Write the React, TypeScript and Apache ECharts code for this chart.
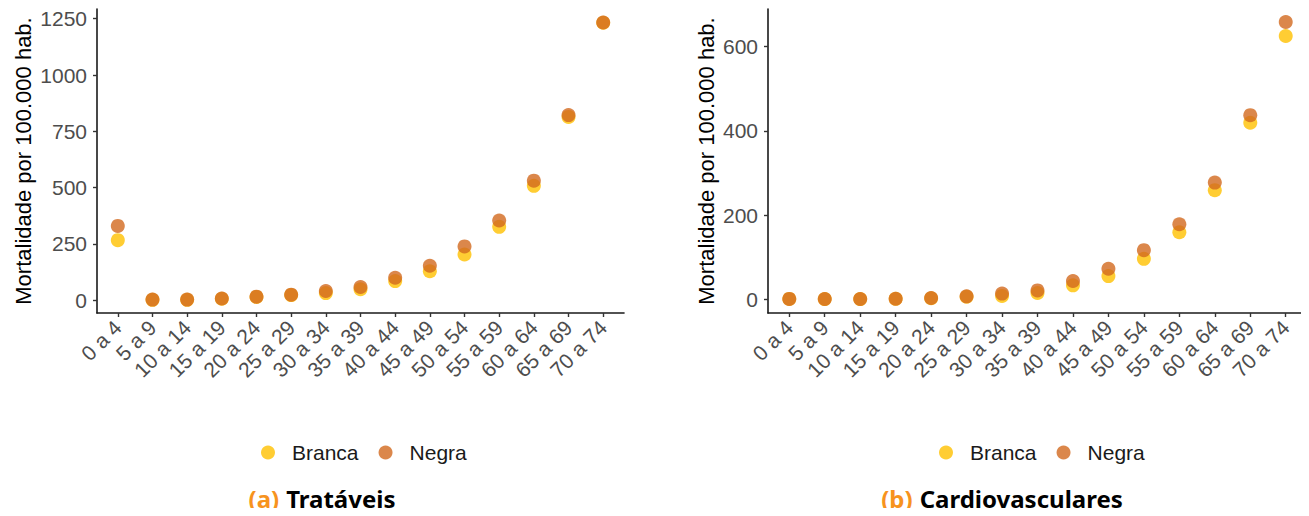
import React, { useEffect, useRef } from "react";
import * as echarts from "echarts";

const ageGroups = [
  "0 a 4", "5 a 9", "10 a 14", "15 a 19", "20 a 24", "25 a 29", "30 a 34",
  "35 a 39", "40 a 44", "45 a 49", "50 a 54", "55 a 59", "60 a 64", "65 a 69", "70 a 74",
];
const tratBranca = [267, 2, 2, 7, 15, 23, 32, 49, 85, 129, 203, 326, 508, 814, 1232];
const tratNegra = [330, 3, 3, 8, 16, 25, 41, 59, 100, 153, 239, 354, 531, 822, 1233];
const cardBranca = [0.8, 0.4, 0.4, 1, 2.5, 6, 8, 15, 33, 55, 96, 159, 259, 419, 625];
const cardNegra = [0.9, 0.5, 0.5, 1.2, 3, 7, 13.5, 21, 43.5, 72.5, 116.5, 178, 277, 437, 658];
const tratTicks = [0, 250, 500, 750, 1000, 1250];
const cardTicks = [0, 200, 400, 600];
const seriesNames = ["Branca", "Negra"];
const captions = [
  { tag: "(a)", title: "Tratáveis" },
  { tag: "(b)", title: "Cardiovasculares" },
];

const COLORS = { Branca: "#FFC000", Negra: "#D2691E" };
const FONT = "'Liberation Sans', Arial, sans-serif";

export default function App() {
  const ref = useRef<HTMLDivElement>(null);
  useEffect(() => {
    if (!ref.current) return;
    const chart = echarts.init(ref.current, null, { renderer: "svg" });
    const idx = ageGroups.map((_, i) => i);
    const xAxisBase = (gridIndex: number) => ({
      type: "value" as const,
      gridIndex,
      min: -0.6,
      max: 14.6,
      splitLine: { show: false },
      axisLine: { show: true, onZero: false, lineStyle: { color: "#1a1a1a", width: 1.6 } },
      axisTick: { show: true, length: 4, customValues: idx, lineStyle: { color: "#333", width: 1.4 } },
      axisLabel: {
        customValues: idx,
        rotate: 45,
        margin: 11,
        color: "#4D4D4D",
        fontSize: 21,
        fontFamily: FONT,
        formatter: (v: number) => ageGroups[Math.round(v)] ?? "",
      },
    });
    const yAxisBase = (gridIndex: number, min: number, max: number, ticks: number[], gap: number) => ({
      type: "value" as const,
      gridIndex,
      min,
      max,
      name: "Mortalidade por 100.000 hab.",
      nameLocation: "middle" as const,
      nameRotate: 90,
      nameGap: gap,
      nameTextStyle: { color: "#000", fontSize: 22, fontFamily: FONT },
      splitLine: { show: false },
      axisLine: { show: true, onZero: false, lineStyle: { color: "#1a1a1a", width: 1.6 } },
      axisTick: { show: true, length: 4, customValues: ticks, lineStyle: { color: "#333", width: 1.4 } },
      axisLabel: {
        customValues: ticks,
        margin: 10,
        color: "#4D4D4D",
        fontSize: 21,
        fontFamily: FONT,
        formatter: (v: number) => String(v),
      },
    });
    const mk = (name: string, vals: number[], axis: number) => ({
      type: "scatter" as const,
      name,
      xAxisIndex: axis,
      yAxisIndex: axis,
      symbolSize: 14,
      itemStyle: { color: (COLORS as any)[name], opacity: 0.8 },
      data: vals.map((v, i) => [i, v]),
    });
    const legendBase = (left: number) => ({
      left,
      top: 437,
      orient: "horizontal" as const,
      icon: "circle",
      itemWidth: 14,
      itemHeight: 14,
      itemGap: 20,
      selectedMode: false,
      data: seriesNames,
      textStyle: { color: "#1a1a1a", fontSize: 21, fontFamily: FONT, padding: [0, 0, 0, 12] },
    });
    const caption = (cx: number, c: { tag: string; title: string }) => ({
      type: "text" as const,
      x: cx,
      y: 498,
      style: {
        text: `{a|${c.tag}}{s| }{b|${c.title}}`,
        align: "center",
        verticalAlign: "middle",
        rich: {
          a: { fill: "#F7931E", fontSize: 24, fontWeight: "bold", fontFamily: "'Noto Sans', sans-serif" },
          s: { fontSize: 24, width: 7 },
          b: { fill: "#000", fontSize: 24, fontWeight: "bold", fontFamily: "'Noto Sans', sans-serif" },
        },
      },
    });
    chart.setOption({
      animation: false,
      backgroundColor: "#fff",
      grid: [
        { left: 97, top: 9, width: 527, height: 304, containLabel: false },
        { left: 768, top: 9, width: 539, height: 304, containLabel: false },
      ],
      xAxis: [xAxisBase(0), xAxisBase(1)],
      yAxis: [
        yAxisBase(0, -56.5, 1293, tratTicks, 63),
        yAxisBase(1, -32.6, 689, cardTicks, 51),
      ],
      legend: [legendBase(256), legendBase(934)],
      series: [
        mk("Branca", tratBranca, 0),
        mk("Negra", tratNegra, 0),
        mk("Branca", cardBranca, 1),
        mk("Negra", cardNegra, 1),
      ],
      graphic: [caption(322, captions[0]), caption(1002, captions[1])],
    });
    return () => chart.dispose();
  }, []);
  return <div ref={ref} style={{ width: 1309, height: 516, margin: -8 }} />;
}
